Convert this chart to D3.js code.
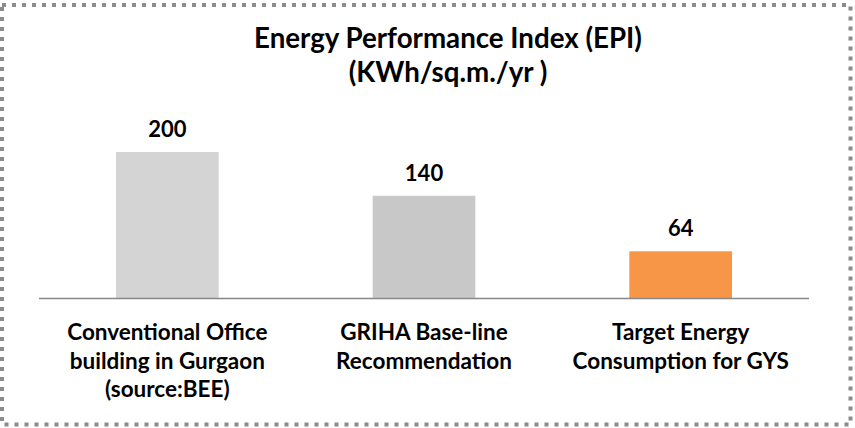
<!DOCTYPE html>
<html><head><meta charset="utf-8">
<script src="https://cdn.jsdelivr.net/npm/d3@7"></script>
<style>body{margin:0;background:#fff}svg{display:block}text{font-family:Lato,"Open Sans",sans-serif;font-weight:bold;fill:#000}</style>
</head><body><svg id="c" width="855" height="428"></svg>
<script>
const categories = ["Conventional Office building in Gurgaon (source:BEE)", "GRIHA Base-line Recommendation", "Target Energy Consumption for GYS"];
const categoryLines = [["Conventional Office", "building in Gurgaon", "(source:BEE)"], ["GRIHA Base-line", "Recommendation"], ["Target Energy", "Consumption for GYS"]];
const values = [200, 140, 64];
const barColors = ["#d4d4d4", "#c8c8c8", "#f79646"];
const titleLines = ["Energy Performance Index (EPI)", "(KWh/sq.m./yr )"];

const svg = d3.select("#c");
svg.append("rect").attr("x", 2).attr("y", 5).attr("width", 848.5).attr("height", 419.5)
  .attr("fill", "none").attr("stroke", "#8c8c8c").attr("stroke-width", 4).attr("stroke-dasharray", "4,6");

const x = d3.scaleBand().domain(categories).range([39, 809]).paddingInner(0.6).paddingOuter(0.3);
const y = d3.scaleLinear().domain([0, 200]).range([298, 152]);

svg.append("g").selectAll("text").data(titleLines).join("text")
  .attr("x", 448).attr("y", (d, i) => 48 + i * 34).attr("text-anchor", "middle")
  .attr("font-size", 27.7).text(d => d);

svg.append("g").selectAll("rect").data(values).join("rect")
  .attr("x", (d, i) => x(categories[i])).attr("width", x.bandwidth())
  .attr("y", d => y(d)).attr("height", d => y(0) - y(d))
  .attr("fill", (d, i) => barColors[i]);

svg.append("line").attr("x1", 39).attr("x2", 809).attr("y1", y(0) + 0.5).attr("y2", y(0) + 0.5)
  .attr("stroke", "#888").attr("stroke-width", 1.5);

svg.append("g").selectAll("text").data(values).join("text")
  .attr("x", (d, i) => x(categories[i]) + x.bandwidth() / 2).attr("y", d => y(d) - 15)
  .attr("text-anchor", "middle").attr("font-size", 22).text(d => d);

categoryLines.forEach((lines, i) => {
  svg.append("g").selectAll("text").data(lines).join("text")
    .attr("x", x(categories[i]) + x.bandwidth() / 2).attr("y", (d, j) => 340 + j * 28.5)
    .attr("text-anchor", "middle").attr("font-size", 22.5).text(d => d);
});
</script></body></html>
